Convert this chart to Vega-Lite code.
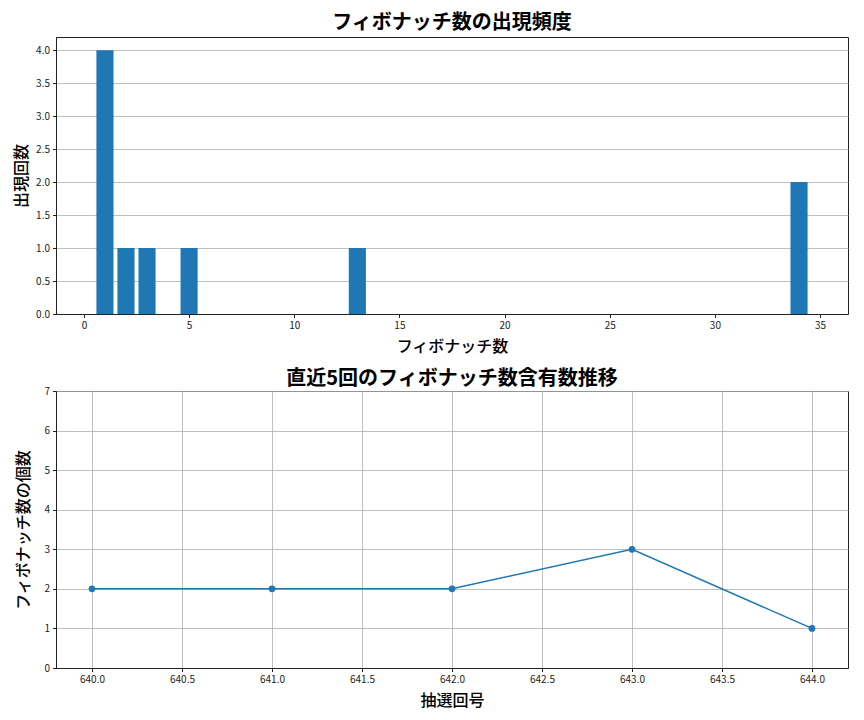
{
  "$schema": "https://vega.github.io/schema/vega-lite/v6.json",
  "background": "white",
  "padding": {"left": 13, "top": 12, "right": 15, "bottom": 5},
  "config": {
    "font": "Noto Sans CJK JP",
    "view": {"stroke": "#222222", "strokeWidth": 1},
    "axis": {
      "labelFont": "Noto Sans CJK JP",
      "titleFont": "Noto Sans CJK JP",
      "labelFontSize": 10,
      "labelColor": "#222222",
      "titleFontSize": 16,
      "titleFontWeight": 500,
      "titleColor": "#000000",
      "domainColor": "#222222",
      "tickColor": "#222222",
      "tickSize": 3.5,
      "gridColor": "#b0b0b0",
      "gridWidth": 0.8,
      "labelPadding": 3
    },
    "title": {"font": "Noto Sans CJK JP", "fontSize": 20, "fontWeight": "bold", "color": "#000000", "offset": 6},
    "concat": {"spacing": 13}
  },
  "vconcat": [
    {
      "title": {"text": "フィボナッチ数の出現頻度", "offset": 4},
      "width": 792,
      "height": 277,
      "data": {"values": [
        {"fib": 1, "count": 4},
        {"fib": 2, "count": 1},
        {"fib": 3, "count": 1},
        {"fib": 5, "count": 1},
        {"fib": 13, "count": 1},
        {"fib": 34, "count": 2}
      ]},
      "mark": {"type": "bar", "color": "#1f77b4", "width": 17.1},
      "encoding": {
        "x": {"field": "fib", "type": "quantitative", "scale": {"domain": [-1.09, 36.09], "nice": false, "zero": false},
          "axis": {"title": "フィボナッチ数", "values": [0, 5, 10, 15, 20, 25, 30, 35], "grid": false, "titlePadding": 8}},
        "y": {"field": "count", "type": "quantitative", "scale": {"domain": [0, 4.2], "nice": false},
          "axis": {"title": "出現回数", "values": [0, 0.5, 1, 1.5, 2, 2.5, 3, 3.5, 4], "format": ".1f", "grid": true, "titlePadding": 6}}
      }
    },
    {
      "title": {"text": "直近5回のフィボナッチ数含有数推移", "offset": -3},
      "width": 792,
      "height": 277,
      "data": {"values": [
        {"draw": 640, "n": 2},
        {"draw": 641, "n": 2},
        {"draw": 642, "n": 2},
        {"draw": 643, "n": 3},
        {"draw": 644, "n": 1}
      ]},
      "mark": {"type": "line", "color": "#1f77b4", "strokeWidth": 1.5, "point": {"filled": true, "size": 45, "color": "#1f77b4"}},
      "encoding": {
        "x": {"field": "draw", "type": "quantitative", "scale": {"domain": [639.8, 644.2], "nice": false, "zero": false},
          "axis": {"title": "抽選回号", "values": [640, 640.5, 641, 641.5, 642, 642.5, 643, 643.5, 644], "format": ".1f", "grid": true, "titlePadding": 8}},
        "y": {"field": "n", "type": "quantitative", "scale": {"domain": [0, 7], "nice": false},
          "axis": {"title": "フィボナッチ数の個数", "values": [0, 1, 2, 3, 4, 5, 6, 7], "grid": true, "titlePadding": 12}}
      }
    }
  ]
}
